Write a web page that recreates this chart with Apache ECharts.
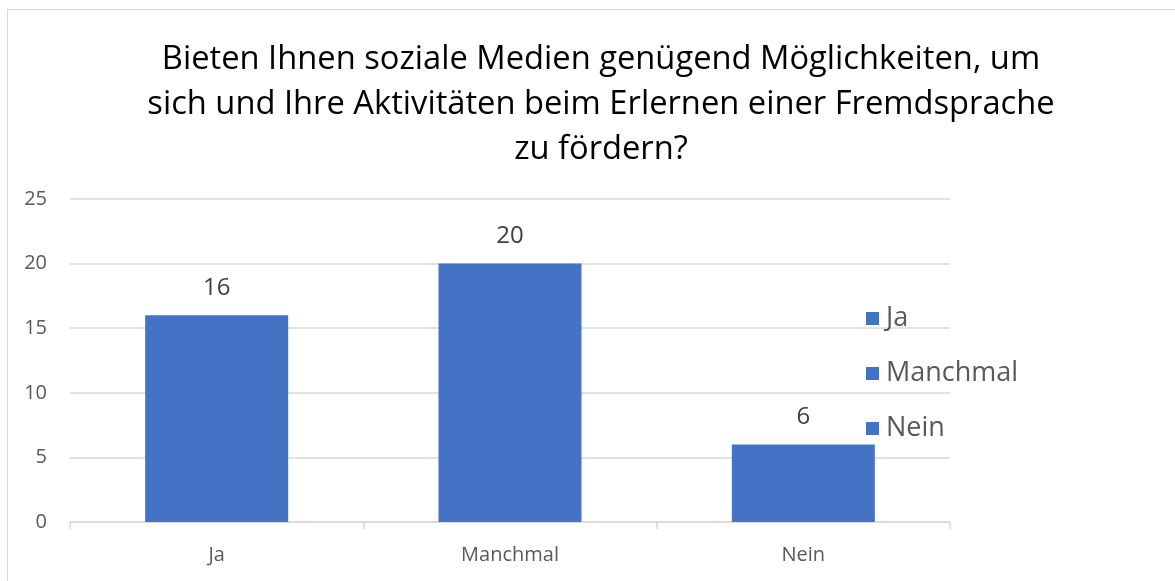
<!DOCTYPE html>
<html>
<head>
<meta charset="utf-8">
<script src="https://cdn.jsdelivr.net/npm/echarts@6/dist/echarts.min.js"></script>
<style>
html,body{margin:0;padding:0;background:#fff;}
#frame{position:absolute;left:7px;top:9px;width:1300px;height:700px;border:1.5px solid #d9d9d9;box-sizing:border-box;}
#chart{position:absolute;left:0;top:0;width:1175px;height:581px;}
</style>
</head>
<body>
<div id="frame"></div>
<div id="chart"></div>
<script>
const titleText = "Bieten Ihnen soziale Medien genügend Möglichkeiten, um\nsich und Ihre Aktivitäten beim Erlernen einer Fremdsprache\nzu fördern?";
const categories = ["Ja", "Manchmal", "Nein"];
const values = [16, 20, 6];
const yTicks = [0, 5, 10, 15, 20, 25];

const font = "Open Sans";
const series = categories.map((c, i) => ({
  name: c,
  type: 'bar',
  stack: 'all',
  barWidth: 143,
  itemStyle: { color: '#4472C4' },
  label: { show: true, position: 'top', distance: 15, fontSize: 24, color: '#404040', fontFamily: font },
  data: categories.map((_, j) => j === i ? values[i] : '-')
}));

const chart = echarts.init(document.getElementById('chart'));
chart.setOption({
  animation: false,
  title: {
    text: titleText,
    left: 596, top: 32, textAlign: 'center',
    textStyle: { fontSize: 32.7, fontWeight: 'normal', color: '#000', fontFamily: font, lineHeight: 45 }
  },
  legend: {
    orient: 'vertical', left: 861, top: 300,
    itemWidth: 13, itemHeight: 13, itemGap: 28,
    icon: 'rect',
    textStyle: { fontSize: 27, color: '#595959', fontFamily: font, padding: [0, 0, 0, 2] },
    data: categories
  },
  grid: { left: 70, right: 225, top: 199, bottom: 59 },
  xAxis: {
    type: 'category', data: categories,
    axisLine: { lineStyle: { color: '#d9d9d9', width: 1.5 } },
    axisTick: { show: true, length: 7, lineStyle: { color: '#d9d9d9', width: 1.5 } },
    axisLabel: { fontSize: 20, color: '#595959', margin: 23, fontFamily: font }
  },
  yAxis: {
    type: 'value', min: yTicks[0], max: yTicks[yTicks.length-1], interval: 5,
    axisLine: { show: false }, axisTick: { show: false },
    axisLabel: { fontSize: 20, color: '#595959', margin: 23, fontFamily: font },
    splitLine: { lineStyle: { color: '#d9d9d9', width: 1.5 } }
  },
  series
});
</script>
</body>
</html>
